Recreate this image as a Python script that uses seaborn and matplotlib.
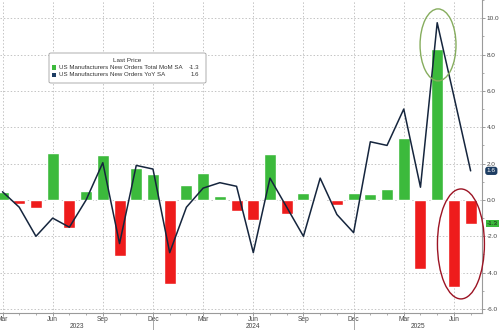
import matplotlib
matplotlib.use("Agg")
import matplotlib.pyplot as plt
import matplotlib.transforms as mtransforms
from matplotlib.patches import Ellipse, Rectangle, FancyBboxPatch
from matplotlib.ticker import MultipleLocator, FixedLocator, FixedFormatter
import seaborn as sns
import pandas as pd

months = ["Mar 2023", "Apr 2023", "May 2023", "Jun 2023", "Jul 2023", "Aug 2023", "Sep 2023",
          "Oct 2023", "Nov 2023", "Dec 2023", "Jan 2024", "Feb 2024", "Mar 2024", "Apr 2024",
          "May 2024", "Jun 2024", "Jul 2024", "Aug 2024", "Sep 2024", "Oct 2024", "Nov 2024",
          "Dec 2024", "Jan 2025", "Feb 2025", "Mar 2025", "Apr 2025", "May 2025", "Jun 2025",
          "Jul 2025"]
mom = [0.45, -0.2, -0.45, 2.6, -1.55, 0.5, 2.45, -3.1, 1.75, 1.45, -4.6, 0.8, 1.5, 0.2,
       -0.6, -1.1, 2.55, -0.75, 0.4, 0.0, -0.3, 0.4, 0.3, 0.6, 3.4, -3.8, 8.3, -4.8, -1.3]
yoy = [0.45, -0.4, -2.0, -1.0, -1.5, 0.0, 2.05, -2.4, 1.9, 1.7, -2.9, -0.4, 0.65, 0.95,
       0.75, -2.9, 1.2, -0.4, -2.0, 1.2, -0.8, -1.8, 3.2, 3.0, 5.0, 0.7, 9.75, 5.7, 1.6]
quarter_labels = ["Mar", "Jun", "Sep", "Dec", "Mar", "Jun", "Sep", "Dec", "Mar", "Jun"]
years = ["2023", "2024", "2025"]
legend_title = "Last Price"
series_names = ["US Manufacturers New Orders Total MoM SA", "US Manufacturers New Orders YoY SA"]
last_values = ["-1.3", "1.6"]

GREEN = "#3cba3c"
RED = "#ee1c1c"
NAVY = "#15253d"
GRID = "#c4c4c4"
FONT = ["Liberation Sans", "DejaVu Sans"]

sns.set_theme(style="white")
plt.rcParams["font.family"] = FONT

idx = list(range(len(months)))
df = pd.DataFrame({"i": idx, "mom": mom, "yoy": yoy})
df["sign"] = ["pos" if v >= 0 else "neg" for v in mom]

fig = plt.figure(figsize=(5.0, 3.3), dpi=100)
ax = fig.add_axes([0.0, 17 / 330, 482 / 500, 313 / 330])

sns.barplot(data=df, x="i", y="mom", hue="sign", palette={"pos": GREEN, "neg": RED},
            dodge=False, width=0.72, legend=False, ax=ax, saturation=1, zorder=2)
sns.lineplot(data=df, x="i", y="yoy", color=NAVY, lw=1.1, ax=ax, zorder=3)

ax.set_xlim(-0.15, 28.68)
ax.set_ylim(-6.22, 11.0)
ax.set_xlabel("")
ax.set_ylabel("")

# grid
ax.set_yticks([-6, -4, -2, 0, 2, 4, 6, 8, 10])
ax.yaxis.set_minor_locator(MultipleLocator(1))
q_pos = [0, 3, 6, 9, 12, 15, 18, 21, 24, 27]
ax.xaxis.set_major_locator(FixedLocator(q_pos))
ax.xaxis.set_major_formatter(FixedFormatter(quarter_labels))
ax.xaxis.set_minor_locator(FixedLocator(idx))
ax.grid(True, which="major", color=GRID, linestyle=(0, (1.5, 2)), lw=0.7, zorder=0)
ax.set_axisbelow(True)

ax.yaxis.tick_right()
ax.yaxis.set_major_formatter(matplotlib.ticker.FormatStrFormatter("%.1f"))
for s in ["left", "top"]:
    ax.spines[s].set_visible(False)
for s in ["right", "bottom"]:
    ax.spines[s].set_visible(True)
    ax.spines[s].set_color("#9a9a9a")
    ax.spines[s].set_linewidth(0.8)
ax.tick_params(axis="y", which="major", right=True, length=2.5, width=0.6, color="#8a8a8a",
               labelsize=4.6, labelcolor="#444444", pad=1.0)
ax.tick_params(axis="y", which="minor", right=True, length=1.3, width=0.5, color="#8a8a8a")
ax.tick_params(axis="x", which="major", bottom=True, length=2.0, width=0.6, color="#8a8a8a",
               labelsize=4.8, labelcolor="#444444", pad=0.5)
ax.tick_params(axis="x", which="minor", bottom=True, length=1.5, width=0.5, color="#8a8a8a")

# year separators and labels
trans = mtransforms.blended_transform_factory(ax.transData, ax.transAxes)
for xs in [9, 21]:
    ax.plot([xs, xs], [0, -0.06], transform=trans, color="#9a9a9a", lw=0.6, clip_on=False)
year_centers = [(-0.15 + 9) / 2, (9 + 21) / 2, (21 + 28.68) / 2]
for yc, yl in zip(year_centers, years):
    ax.text(yc, -0.044, yl, transform=trans, ha="center", va="center", fontsize=4.8,
            color="#444444")

# annotation ellipses
ax.add_patch(Ellipse((26.05, 8.53), 2.15, 3.96, fill=False, edgecolor="#86ad5e", lw=1.0,
                     zorder=4, clip_on=False))
ax.add_patch(Ellipse((27.42, -2.42), 2.81, 6.05, fill=False, edgecolor="#9c1424", lw=1.0,
                     zorder=4, clip_on=False))

# last value labels on right axis
ytrans = mtransforms.blended_transform_factory(ax.transAxes, ax.transData)
ax.text(1.01, float(last_values[1]), last_values[1], transform=ytrans, ha="left", va="center",
        fontsize=4.6, color="white", zorder=6, clip_on=False,
        bbox=dict(boxstyle="round,pad=0.25,rounding_size=0.4", fc="#1d3d63", ec="none"))
ax.text(1.01, float(last_values[0]), last_values[0], transform=ytrans, ha="left", va="center",
        fontsize=4.6, color="#1a1a1a", zorder=6, clip_on=False,
        bbox=dict(boxstyle="square,pad=0.2", fc=GREEN, ec="none"))

# legend box (pixel coordinates converted to figure fraction)
W, H = 500.0, 330.0
def fx(px):
    return px / W
def fy(py):
    return 1 - py / H

fig.patches.append(FancyBboxPatch((fx(49), fy(83)), fx(206) - fx(49), fy(53) - fy(83),
                                  boxstyle="round,pad=0,rounding_size=0.004",
                                  transform=fig.transFigure, fc="white", ec="#a0a0a0",
                                  lw=0.6, zorder=5))
fig.text(fx(127), fy(60.5), legend_title, ha="center", va="center", fontsize=4.6,
         color="#333333", zorder=6)
for k, (nm, val, col) in enumerate(zip(series_names, last_values, [GREEN, "#1d3d63"])):
    yy = fy(67.5 + 7.5 * k)
    fig.patches.append(Rectangle((fx(51.5), yy - 2.3 / H), 4.6 / W, 4.6 / H,
                                 transform=fig.transFigure, fc=col, ec="none", zorder=6))
    fig.text(fx(59), yy, nm, ha="left", va="center", fontsize=4.45, color="#333333", zorder=6)
    fig.text(fx(199), yy, val, ha="right", va="center", fontsize=4.45, color="#333333", zorder=6)

fig.savefig("out.png", dpi=100)
